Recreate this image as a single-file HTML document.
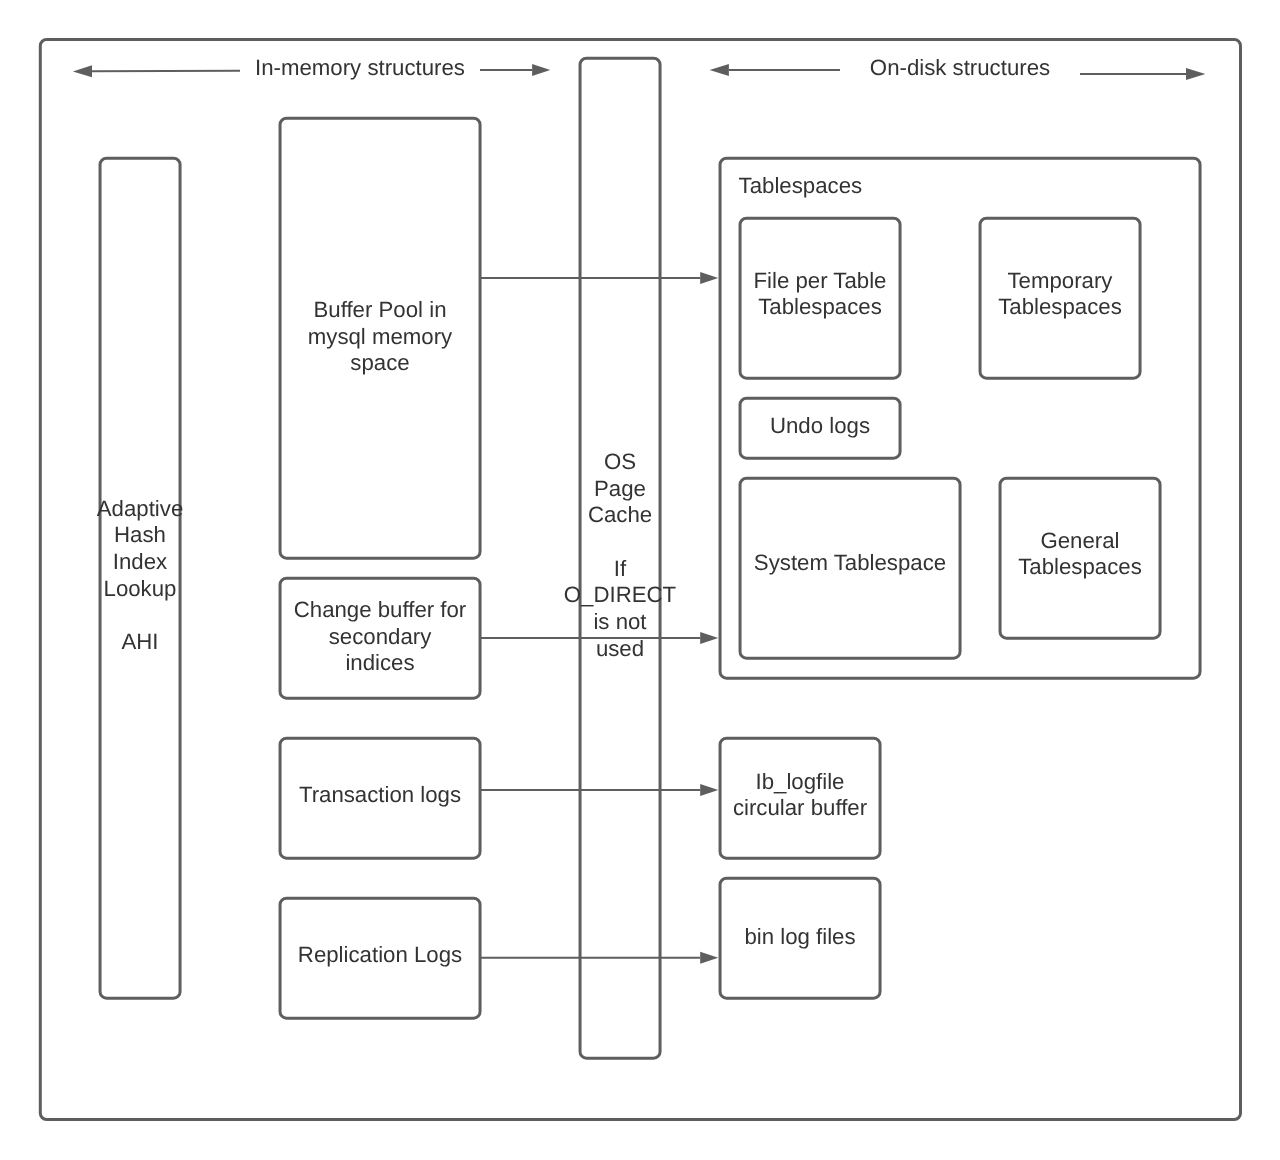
<!DOCTYPE html>
<html lang="en">
<head>
<meta charset="utf-8">
<title>InnoDB architecture</title>
<style>
html,body{margin:0;padding:0;background:#fff;}
body{width:1280px;height:1160px;overflow:hidden;}
svg{display:block;will-change:transform;}
text{text-rendering:geometricPrecision;font-family:"Liberation Sans",sans-serif;font-size:22.22px;fill:#333333;}
.box{fill:#fff;stroke:#5e5e5e;stroke-width:3;}
.ln{stroke:#5e5e5e;stroke-width:2;fill:none;}
.hd{fill:#5e5e5e;stroke:none;}
</style>
</head>
<body>
<svg width="1280" height="1160" viewBox="0 0 1280 1160">
<rect x="0" y="0" width="1280" height="1160" fill="#ffffff"/>
<rect class="box" x="40.3" y="39.5" width="1200.2" height="1080.0" rx="6.2" ry="6.2"/>
<rect class="box" x="100.05" y="158.2" width="80.0" height="840.0" rx="6.5" ry="6.5"/>
<rect class="box" x="280.05" y="118.2" width="200.0" height="440.0" rx="6.5" ry="6.5"/>
<rect class="box" x="280.05" y="578.2" width="200.0" height="120.0" rx="6.5" ry="6.5"/>
<rect class="box" x="280.05" y="738.2" width="200.0" height="120.0" rx="6.5" ry="6.5"/>
<rect class="box" x="280.05" y="898.2" width="200.0" height="120.0" rx="6.5" ry="6.5"/>
<rect class="box" x="580.05" y="58.2" width="80.0" height="1000.0" rx="6.5" ry="6.5"/>
<rect class="box" x="720.05" y="158.2" width="480.0" height="520.0" rx="6.5" ry="6.5"/>
<rect class="box" x="740.05" y="218.2" width="160.0" height="160.0" rx="6.5" ry="6.5"/>
<rect class="box" x="980.05" y="218.2" width="160.0" height="160.0" rx="6.5" ry="6.5"/>
<rect class="box" x="740.05" y="398.2" width="160.0" height="60.0" rx="6.5" ry="6.5"/>
<rect class="box" x="740.05" y="478.2" width="220.0" height="180.0" rx="6.5" ry="6.5"/>
<rect class="box" x="1000.05" y="478.2" width="160.0" height="160.0" rx="6.5" ry="6.5"/>
<rect class="box" x="720.05" y="738.2" width="160.0" height="120.0" rx="6.5" ry="6.5"/>
<rect class="box" x="720.05" y="878.2" width="160.0" height="120.0" rx="6.5" ry="6.5"/>
<path class="ln" d="M240 70.7L92.00 71.32"/>
<path class="hd" d="M72.9 71.4L91.97 65.32L92.02 77.32Z"/>
<path class="ln" d="M480 70L532.10 70.00"/>
<path class="hd" d="M550.3 70L532.10 76.00L532.10 64.00Z"/>
<path class="ln" d="M840 70L728.90 70.00"/>
<path class="hd" d="M709.6 70L728.90 64.00L728.90 76.00Z"/>
<path class="ln" d="M1080 74L1186.00 74.00"/>
<path class="hd" d="M1205.4 74L1186.00 80.00L1186.00 68.00Z"/>
<path class="ln" d="M481 278L700.20 278.00"/>
<path class="hd" d="M718.3 278L700.20 284.00L700.20 272.00Z"/>
<path class="ln" d="M481 638L700.20 638.00"/>
<path class="hd" d="M718.3 638L700.20 644.00L700.20 632.00Z"/>
<path class="ln" d="M481 790L700.20 790.00"/>
<path class="hd" d="M718.3 790L700.20 796.00L700.20 784.00Z"/>
<path class="ln" d="M481 957.8L700.20 957.80"/>
<path class="hd" d="M718.3 957.8L700.20 963.80L700.20 951.80Z"/>
<text x="360" y="75" text-anchor="middle">In-memory structures</text>
<text x="960" y="75" text-anchor="middle">On-disk structures</text>
<text x="140" y="516" text-anchor="middle">Adaptive</text>
<text x="140" y="542" text-anchor="middle">Hash</text>
<text x="140" y="569" text-anchor="middle">Index</text>
<text x="140" y="596" text-anchor="middle">Lookup</text>
<text x="140" y="649" text-anchor="middle">AHI</text>
<text x="380" y="317" text-anchor="middle">Buffer Pool in</text>
<text x="380" y="344" text-anchor="middle">mysql memory</text>
<text x="380" y="370" text-anchor="middle">space</text>
<text x="380" y="617" text-anchor="middle">Change buffer for</text>
<text x="380" y="644" text-anchor="middle">secondary</text>
<text x="380" y="670" text-anchor="middle">indices</text>
<text x="380" y="802" text-anchor="middle">Transaction logs</text>
<text x="380" y="962" text-anchor="middle">Replication Logs</text>
<text x="620" y="469" text-anchor="middle">OS</text>
<text x="620" y="496" text-anchor="middle">Page</text>
<text x="620" y="522" text-anchor="middle">Cache</text>
<text x="620" y="576" text-anchor="middle">If</text>
<text x="620" y="602" text-anchor="middle">O_DIRECT</text>
<text x="620" y="629" text-anchor="middle">is not</text>
<text x="620" y="656" text-anchor="middle">used</text>
<text x="738.6" y="193" text-anchor="start">Tablespaces</text>
<text x="820" y="288" text-anchor="middle">File per Table</text>
<text x="820" y="314" text-anchor="middle">Tablespaces</text>
<text x="1060" y="288" text-anchor="middle">Temporary</text>
<text x="1060" y="314" text-anchor="middle">Tablespaces</text>
<text x="820" y="433" text-anchor="middle">Undo logs</text>
<text x="850" y="570" text-anchor="middle">System Tablespace</text>
<text x="1080" y="548" text-anchor="middle">General</text>
<text x="1080" y="574" text-anchor="middle">Tablespaces</text>
<text x="800" y="789" text-anchor="middle">Ib_logfile</text>
<text x="800" y="815" text-anchor="middle">circular buffer</text>
<text x="800" y="944" text-anchor="middle">bin log files</text>
</svg>
</body>
</html>
